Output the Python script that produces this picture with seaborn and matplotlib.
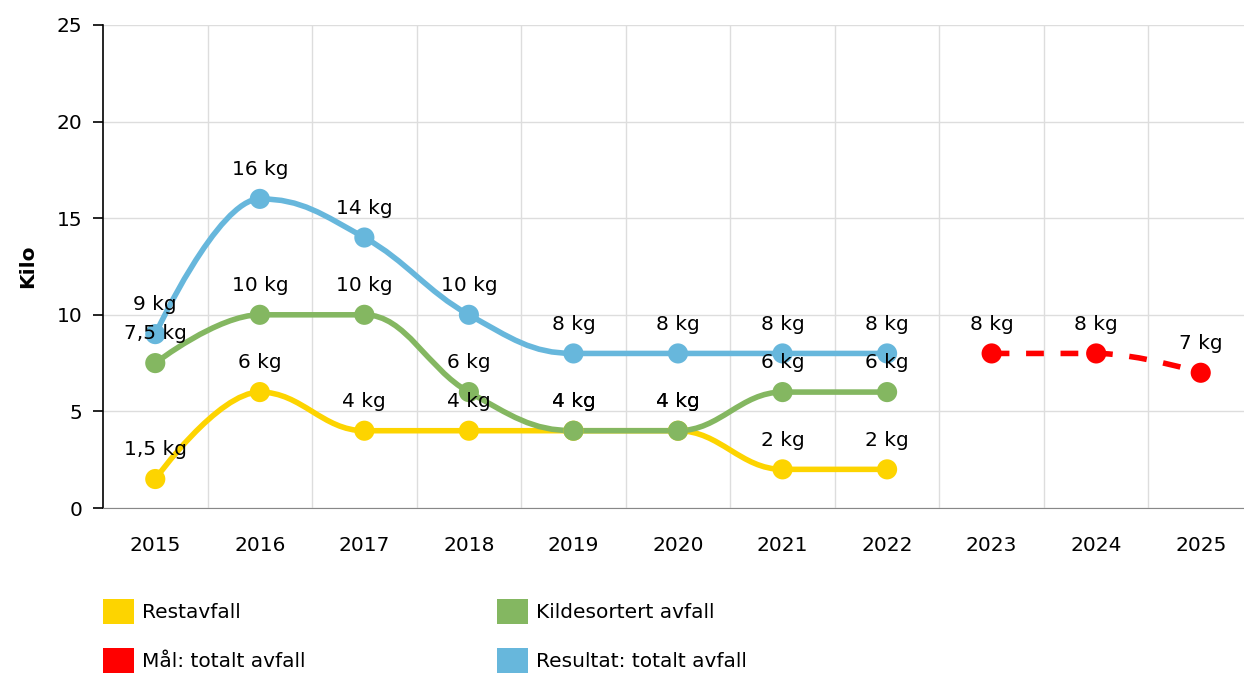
import numpy as np
import pandas as pd
import matplotlib
matplotlib.use("Agg")
import matplotlib.pyplot as plt
import seaborn as sns
from matplotlib.path import Path
from matplotlib.patches import PathPatch, Patch

# Data
years = ["2015", "2016", "2017", "2018", "2019", "2020", "2021", "2022", "2023", "2024", "2025"]
restavfall = [1.5, 6, 4, 4, 4, 4, 2, 2, None, None, None]
kildesortert = [7.5, 10, 10, 6, 4, 4, 6, 6, None, None, None]
resultat = [9, 16, 14, 10, 8, 8, 8, 8, None, None, None]
maal = [None, None, None, None, None, None, None, None, 8, 8, 7]
labels = {
    "Restavfall": ["1,5 kg", "6 kg", "4 kg", "4 kg", "4 kg", "4 kg", "2 kg", "2 kg"],
    "Kildesortert avfall": ["7,5 kg", "10 kg", "10 kg", "6 kg", "4 kg", "4 kg", "6 kg", "6 kg"],
    "Resultat: totalt avfall": ["9 kg", "16 kg", "14 kg", "10 kg", "8 kg", "8 kg", "8 kg", "8 kg"],
    "Mål: totalt avfall": ["8 kg", "8 kg", "7 kg"],
}
colors = {
    "Restavfall": "#FDD400",
    "Kildesortert avfall": "#84B761",
    "Mål: totalt avfall": "#FF0000",
    "Resultat: totalt avfall": "#67B7DC",
}
series = {
    "Restavfall": restavfall,
    "Kildesortert avfall": kildesortert,
    "Resultat: totalt avfall": resultat,
    "Mål: totalt avfall": maal,
}

rows = []
for name, vals in series.items():
    for i, v in enumerate(vals):
        if v is not None:
            rows.append({"serie": name, "x": i, "kg": v})
df = pd.DataFrame(rows)


def spline_path(xs, ys, smoothing=1.5):
    # Highcharts-style spline control points
    n = len(xs)
    left = [(x, y) for x, y in zip(xs, ys)]
    right = [(x, y) for x, y in zip(xs, ys)]
    d = smoothing + 1
    for i in range(1, n - 1):
        lx, ly = xs[i - 1], ys[i - 1]
        px, py = xs[i], ys[i]
        nx, ny = xs[i + 1], ys[i + 1]
        lcx = (smoothing * px + lx) / d
        lcy = (smoothing * py + ly) / d
        rcx = (smoothing * px + nx) / d
        rcy = (smoothing * py + ny) / d
        corr = ((rcy - lcy) * (rcx - px)) / (rcx - lcx) + py - rcy
        lcy += corr
        rcy += corr
        if lcy > ly and lcy > py:
            lcy = max(ly, py)
            rcy = 2 * py - lcy
        elif lcy < ly and lcy < py:
            lcy = min(ly, py)
            rcy = 2 * py - lcy
        if rcy > ny and rcy > py:
            rcy = max(ny, py)
            lcy = 2 * py - rcy
        elif rcy < ny and rcy < py:
            rcy = min(ny, py)
            lcy = 2 * py - rcy
        left[i] = (lcx, lcy)
        right[i] = (rcx, rcy)
    verts = [(xs[0], ys[0])]
    codes = [Path.MOVETO]
    for i in range(1, n):
        verts += [right[i - 1], left[i], (xs[i], ys[i])]
        codes += [Path.CURVE4] * 3
    return Path(verts, codes)


sns.set_style("white")
plt.rcParams["font.family"] = ["DejaVu Sans"]
plt.rcParams["text.color"] = "black"
plt.rcParams["xtick.color"] = "black"
plt.rcParams["ytick.color"] = "black"
plt.rcParams["axes.labelcolor"] = "black"

fig = plt.figure(figsize=(12.44, 6.75), dpi=100)
ax = fig.add_axes([103 / 1244, 167 / 675, 1150 / 1244, 483 / 675])

for name in ["Mål: totalt avfall", "Restavfall", "Kildesortert avfall", "Resultat: totalt avfall"]:
    sub = df[df["serie"] == name]
    path = spline_path(list(sub["x"]), list(sub["kg"]))
    ls = (0, (3.2, 3)) if name.startswith("Mål") else "-"
    ax.add_patch(PathPatch(path, facecolor="none", edgecolor=colors[name], lw=4,
                           linestyle=ls, capstyle="butt", zorder=3))

sns.scatterplot(data=df, x="x", y="kg", hue="serie", palette=colors, s=210,
                edgecolor="none", legend=False, ax=ax, zorder=4)

for name, labs in labels.items():
    sub = df[df["serie"] == name]
    for (x, y), lab in zip(zip(sub["x"], sub["kg"]), labs):
        ax.annotate(lab, (x, y), xytext=(0, 21), textcoords="offset points",
                    ha="center", va="center", fontsize=14.5, color="black", zorder=5)

ax.set_xlim(-0.5, 10.5)
ax.set_ylim(0, 25)
ax.set_xticks(range(len(years)))
ax.set_xticklabels(years, fontsize=14.5)
ax.set_yticks([0, 5, 10, 15, 20, 25])
ax.set_yticklabels(["0", "5", "10", "15", "20", "25"], fontsize=14.5)
ax.set_xticks(np.arange(0.5, 10.5, 1), minor=True)
ax.grid(True, which="major", axis="y", color="#dddddd", lw=1)
ax.grid(True, which="minor", axis="x", color="#dddddd", lw=1)
ax.tick_params(axis="x", which="major", length=6, color="#999999", pad=14)
ax.tick_params(axis="x", which="minor", length=0)
ax.tick_params(axis="y", length=7, color="black", width=1.2, pad=8, left=True)
for s in ["top", "right"]:
    ax.spines[s].set_visible(False)
ax.spines["left"].set_color("black")
ax.spines["left"].set_linewidth(1.2)
ax.spines["bottom"].set_color("#888888")
ax.set_xlabel("")
ax.set_ylabel("Kilo", fontsize=14.5, fontweight="bold", labelpad=14)

order = ["Restavfall", "Mål: totalt avfall", "Kildesortert avfall", "Resultat: totalt avfall"]
handles = [Patch(facecolor=colors[n], edgecolor="none") for n in order]
fig.legend(handles, order, ncol=2, loc="upper left", bbox_to_anchor=(85 / 1244, 1 - 581 / 675),
           frameon=False, fontsize=14.5, handlelength=1.55, handleheight=1.55,
           handletextpad=0.4, columnspacing=9.5, labelspacing=1.15)

fig.savefig("out.png", dpi=100)
